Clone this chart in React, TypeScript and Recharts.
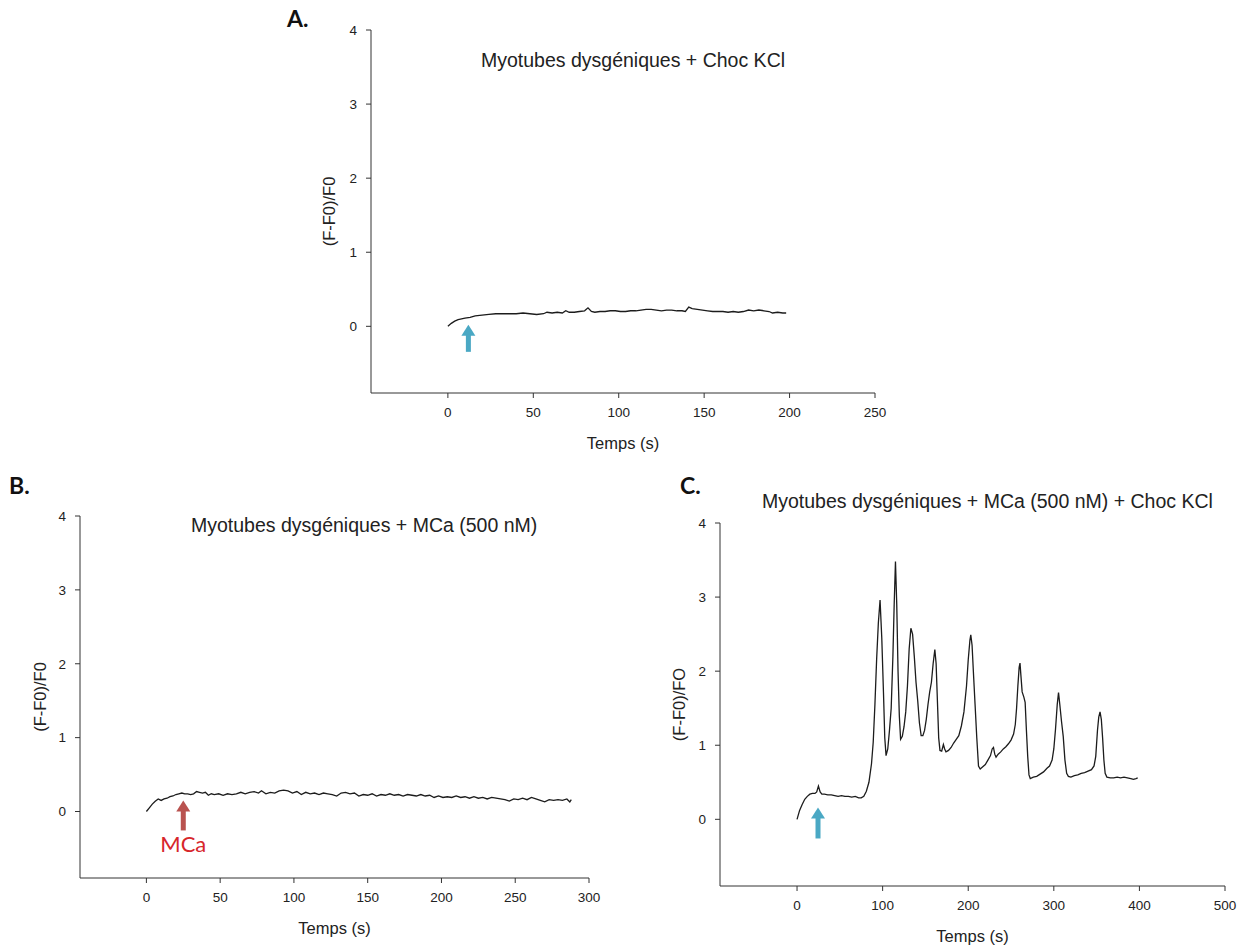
import { LineChart, Line, XAxis, YAxis, ReferenceDot } from "recharts";

// Panel A: dysgenic myotubes + KCl shock
const timeA = [0, 2, 4, 6, 8, 10, 13, 16, 20, 24, 28, 32, 36, 40, 44, 48, 52, 56, 58, 61, 64, 67, 69, 71, 74, 77, 80, 82, 84, 86, 89, 92, 95, 98, 101, 104, 107, 110, 113, 116, 119, 122, 125, 128, 131, 134, 137, 139, 141, 143, 146, 149, 152, 155, 158, 161, 164, 167, 170, 173, 176, 179, 182, 185, 188, 190, 193, 196, 198];
const signalA = [0, 0.04, 0.07, 0.09, 0.1, 0.11, 0.12, 0.14, 0.15, 0.16, 0.17, 0.17, 0.17, 0.17, 0.18, 0.17, 0.16, 0.17, 0.19, 0.18, 0.19, 0.18, 0.21, 0.19, 0.19, 0.2, 0.21, 0.25, 0.2, 0.19, 0.2, 0.2, 0.21, 0.21, 0.2, 0.2, 0.21, 0.21, 0.22, 0.23, 0.23, 0.22, 0.21, 0.22, 0.22, 0.21, 0.21, 0.2, 0.26, 0.24, 0.23, 0.22, 0.21, 0.2, 0.2, 0.2, 0.19, 0.2, 0.19, 0.2, 0.22, 0.21, 0.22, 0.21, 0.2, 0.18, 0.19, 0.18, 0.18];

// Panel B: dysgenic myotubes + MCa (500 nM)
const timeB = [0, 2, 4, 6, 8, 10, 12, 14, 16, 18, 20, 22, 24, 26, 28, 30, 32, 34, 36, 38, 40, 42, 44, 46, 49, 52, 55, 58, 61, 64, 67, 70, 73, 76, 78, 81, 84, 87, 90, 93, 96, 99, 102, 105, 108, 111, 114, 117, 120, 123, 126, 129, 132, 135, 138, 141, 144, 147, 150, 153, 156, 159, 162, 165, 168, 171, 174, 177, 180, 183, 186, 189, 192, 195, 198, 201, 204, 207, 210, 213, 216, 219, 222, 225, 228, 231, 234, 237, 240, 243, 246, 249, 252, 255, 258, 261, 264, 267, 270, 273, 276, 279, 282, 285, 287, 288];
const signalB = [0, 0.05, 0.1, 0.14, 0.17, 0.15, 0.17, 0.18, 0.2, 0.21, 0.23, 0.24, 0.25, 0.24, 0.24, 0.23, 0.24, 0.27, 0.26, 0.25, 0.26, 0.22, 0.24, 0.23, 0.24, 0.22, 0.24, 0.23, 0.24, 0.26, 0.24, 0.26, 0.27, 0.25, 0.28, 0.24, 0.26, 0.25, 0.28, 0.29, 0.28, 0.25, 0.27, 0.23, 0.26, 0.24, 0.25, 0.23, 0.25, 0.24, 0.23, 0.21, 0.25, 0.26, 0.24, 0.25, 0.21, 0.23, 0.22, 0.24, 0.21, 0.23, 0.22, 0.24, 0.22, 0.23, 0.21, 0.23, 0.22, 0.21, 0.23, 0.21, 0.22, 0.19, 0.21, 0.19, 0.2, 0.19, 0.21, 0.19, 0.2, 0.18, 0.2, 0.18, 0.19, 0.17, 0.19, 0.18, 0.17, 0.16, 0.14, 0.17, 0.16, 0.18, 0.16, 0.19, 0.17, 0.15, 0.13, 0.16, 0.15, 0.16, 0.15, 0.17, 0.13, 0.16];

// Panel C: dysgenic myotubes + MCa (500 nM) + KCl shock
const timeC = [0, 3, 6, 9, 12, 15, 18, 21, 23, 25, 27, 29, 32, 36, 40, 44, 48, 52, 56, 60, 64, 68, 72, 75, 78, 81, 84, 87, 89, 91, 93, 95, 97, 99, 101, 102.5, 104, 106, 108, 110, 112, 113.5, 115, 116.5, 118, 119.5, 121, 123, 125, 127, 129, 131, 133, 135, 137, 139, 141, 143, 145, 147, 149, 151, 153, 155, 157, 159, 161, 162.5, 164, 165.5, 167, 169, 171, 172.5, 174, 177, 180, 183, 186, 189, 192, 195, 198, 200, 202, 203, 204.5, 206, 208, 210, 212, 214, 217, 220, 223, 226, 228, 229.5, 231, 232.5, 235, 238, 241, 244, 247, 250, 253, 255, 256.5, 258, 259.5, 260.5, 261.5, 263, 265, 266.5, 268, 269.5, 271, 272.5, 276, 280, 284, 288, 292, 295, 298, 300, 302, 304, 305.5, 307, 309, 311, 313, 315, 317, 320, 324, 328, 332, 336, 340, 344, 347, 349, 351, 352.5, 354, 355.5, 357, 358.5, 360, 362, 366, 370, 374, 378, 382, 386, 390, 393, 396, 398];
const signalC = [0, 0.12, 0.2, 0.27, 0.31, 0.34, 0.35, 0.35, 0.37, 0.45, 0.37, 0.34, 0.34, 0.33, 0.33, 0.32, 0.31, 0.32, 0.31, 0.31, 0.3, 0.31, 0.29, 0.29, 0.31, 0.38, 0.5, 0.75, 1.04, 1.55, 2.16, 2.65, 2.96, 2.45, 1.71, 1.1, 0.86, 0.95, 1.2, 1.5, 2.2, 2.9, 3.48, 2.9, 2.0, 1.4, 1.08, 1.12, 1.25, 1.45, 1.8, 2.3, 2.58, 2.5, 2.2, 1.85, 1.6, 1.3, 1.13, 1.13, 1.2, 1.35, 1.55, 1.72, 1.85, 2.1, 2.29, 2.1, 1.6, 1.1, 0.93, 0.92, 1.01, 0.95, 0.91, 0.93, 0.97, 1.03, 1.08, 1.13, 1.26, 1.45, 1.8, 2.15, 2.42, 2.49, 2.35, 2.0, 1.55, 1.1, 0.72, 0.68, 0.71, 0.74, 0.8, 0.86, 0.95, 0.97, 0.88, 0.84, 0.88, 0.91, 0.95, 0.98, 1.02, 1.07, 1.15, 1.28, 1.5, 1.8, 2.05, 2.11, 1.95, 1.72, 1.65, 1.58, 1.2, 0.85, 0.6, 0.55, 0.57, 0.58, 0.61, 0.64, 0.69, 0.72, 0.8, 0.95, 1.22, 1.55, 1.71, 1.55, 1.32, 1.12, 0.8, 0.62, 0.58, 0.57, 0.59, 0.6, 0.62, 0.63, 0.65, 0.67, 0.72, 0.85, 1.2, 1.38, 1.45, 1.35, 1.1, 0.8, 0.62, 0.57, 0.56, 0.56, 0.57, 0.56, 0.57, 0.56, 0.55, 0.54, 0.55, 0.56];

const yTicks = [0, 1, 2, 3, 4];
const xTicksA = [0, 50, 100, 150, 200, 250];
const xTicksB = [0, 50, 100, 150, 200, 250, 300];
const xTicksC = [0, 100, 200, 300, 400, 500];

// arrows: [time, value at tip]
const kclArrowA = [12, 0.02];
const mcaArrowB = [25, 0.15];
const kclArrowC = [24.5, 0.16];

const toRows = (t: number[], v: number[]) => t.map((x, i) => ({ t: x, v: v[i] }));

const FONT = "'Liberation Sans', Arial, sans-serif";
const INK = "#222";
const BLUE = "#4aa8c4";

const Arrow = ({ cx, cy, color, len, text }: { cx: number; cy: number; color: string; len: number; text?: string }) => (
  <g>
    <polygon points={`${cx},${cy} ${cx - 7},${cy + 11} ${cx + 7},${cy + 11}`} fill={color} />
    <rect x={cx - 2.5} y={cy + 10} width={5} height={len - 10} fill={color} />
    {text && (
      <text x={cx} y={cy + len + 22} textAnchor="middle" fill="#d7262b" fontSize={22} fontFamily="Lato, 'Open Sans', sans-serif">
        {text}
      </text>
    )}
  </g>
);

type PanelProps = {
  left: number;
  top: number;
  width: number;
  height: number;
  yWidth: number;
  right: number;
  rows: { t: number; v: number }[];
  xDomain: [number, number];
  xTicks: number[];
  yLabel: string;
  arrow: number[];
  arrowColor: string;
  arrowLen: number;
  arrowText?: string;
};

const Panel = (p: PanelProps) => (
  <div style={{ position: "absolute", left: p.left, top: p.top }}>
    <LineChart width={p.width} height={p.height} data={p.rows} margin={{ top: 30, right: p.right, bottom: 5, left: 0 }}>
      <XAxis
        type="number"
        dataKey="t"
        domain={p.xDomain}
        ticks={p.xTicks}
        interval={0}
        allowDataOverflow
        height={56}
        tickSize={5}
        tickMargin={9}
        stroke="#333"
        tick={{ fill: INK, fontSize: 13.5, fontFamily: FONT }}
        label={{ value: "Temps (s)", position: "insideBottom", offset: 0, fill: INK, fontSize: 16.5, fontFamily: FONT }}
      />
      <YAxis
        type="number"
        domain={[-0.9, 4]}
        ticks={yTicks}
        interval={0}
        allowDataOverflow
        width={p.yWidth}
        tickSize={5}
        tickMargin={9}
        stroke="#333"
        tick={{ fill: INK, fontSize: 13.5, fontFamily: FONT }}
        label={{ value: p.yLabel, angle: -90, position: "center", fill: INK, fontSize: 16.5, fontFamily: FONT }}
      />
      <Line type="linear" dataKey="v" stroke="#1c1c1c" strokeWidth={1.3} dot={false} isAnimationActive={false} />
      <ReferenceDot
        x={p.arrow[0]}
        y={p.arrow[1]}
        r={0}
        ifOverflow="visible"
        shape={(s: any) => <Arrow cx={s.cx} cy={s.cy} color={p.arrowColor} len={p.arrowLen} text={p.arrowText} />}
      />
    </LineChart>
  </div>
);

const App = () => (
  <div style={{ position: "absolute", left: 0, top: 0, width: 1244, height: 947, background: "#fff", overflow: "hidden" }}>
    <Panel
      left={287} top={0} width={615} height={454} yWidth={84} right={27}
      rows={toRows(timeA, signalA)} xDomain={[-45, 250]} xTicks={xTicksA}
      yLabel="(F-F0)/F0" arrow={kclArrowA} arrowColor={BLUE} arrowLen={27}
    />
    <Panel
      left={0} top={486} width={609} height={453} yWidth={80} right={20}
      rows={toRows(timeB, signalB)} xDomain={[-45, 300]} xTicks={xTicksB}
      yLabel="(F-F0)/F0" arrow={mcaArrowB} arrowColor="#b9524f" arrowLen={30} arrowText="MCa"
    />
    <Panel
      left={638} top={493} width={602} height={454} yWidth={82} right={15}
      rows={toRows(timeC, signalC)} xDomain={[-90, 500]} xTicks={xTicksC}
      yLabel="(F-F0)/FO" arrow={kclArrowC} arrowColor={BLUE} arrowLen={31}
    />
    <svg width={1244} height={947} style={{ position: "absolute", left: 0, top: 0, pointerEvents: "none" }}>
      <g fontFamily={FONT} fill={INK} fontSize={19.5}>
        <text x={481} y={67}>Myotubes dysgéniques + Choc KCl</text>
        <text x={191} y={532}>Myotubes dysgéniques + MCa (500 nM)</text>
        <text x={762} y={508}>Myotubes dysgéniques + MCa (500 nM) + Choc KCl</text>
      </g>
      <g fontFamily="Lato, 'Open Sans', sans-serif" fontWeight="bold" fill="#111" fontSize={23}>
        <text x={287} y={27}>A.</text>
        <text x={9} y={494}>B.</text>
        <text x={680} y={494}>C.</text>
      </g>
    </svg>
  </div>
);

export default App;
